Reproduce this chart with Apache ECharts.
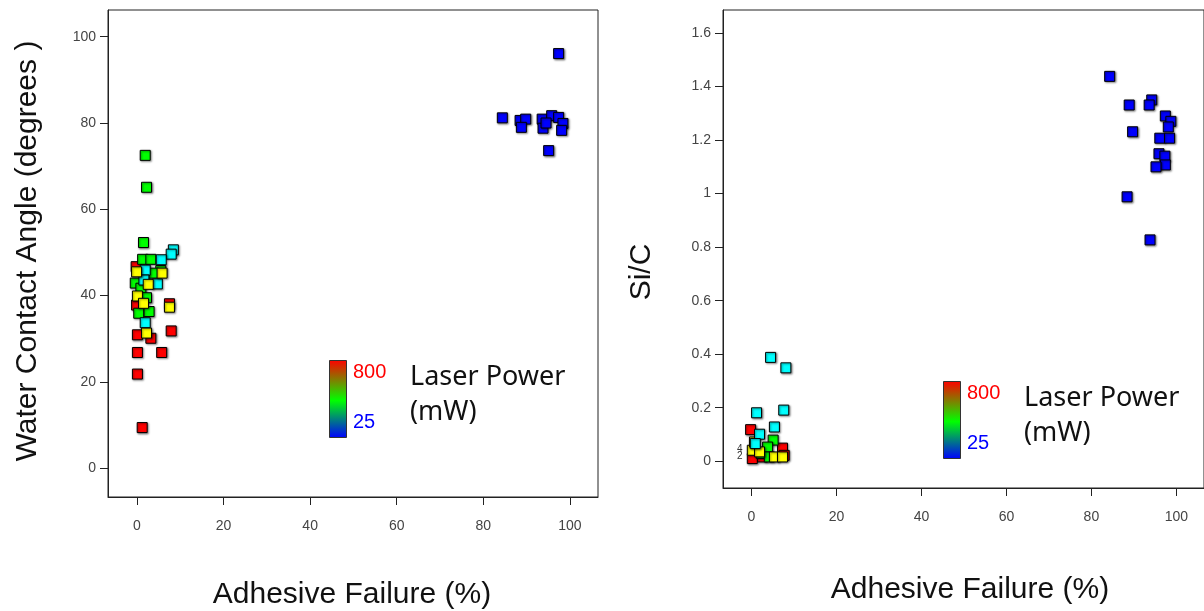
<!DOCTYPE html>
<html>
<head>
<meta charset="utf-8">
<script src="https://cdn.jsdelivr.net/npm/echarts@6/dist/echarts.min.js"></script>
<style>
  html, body { margin: 0; padding: 0; background: #fff; }
  #chart { width: 1204px; height: 611px; }
</style>
</head>
<body>
<div id="chart"></div>
<script>
// left panel: water contact angle vs adhesive failure, grouped by point colour
var wcaRed = [[-0.2,46.7],[-0.1,37.8],[7.5,38.1],[0.1,30.9],[3.2,30.1],[7.9,31.8],[0.1,26.8],[5.7,26.8],[0.1,21.8],[1.2,9.4]];
var wcaYellow = [[-0.1,45.5],[5.8,45.2],[2.6,42.6],[0.1,39.9],[7.5,37.3],[1.5,38.2],[2.2,31.3]];
var wcaGreen = [[1.9,72.5],[2.2,65.1],[1.5,52.3],[1.3,48.4],[3.2,48.4],[5.5,45.8],[3.8,45.2],[-0.4,42.9],[0.9,41.7],[2.2,39.5],[0.4,35.9],[2.8,36.3]];
var wcaCyan = [[8.4,50.6],[7.9,49.6],[5.6,48.3],[1.9,45.9],[1.6,43.6],[4.7,42.7],[1.9,33.7]];
var wcaBlue = [[97.4,96.1],[84.4,81.2],[88.5,80.6],[89.8,80.9],[88.8,79.0],[93.6,80.9],[93.8,78.8],[95.8,81.7],[97.4,81.3],[98.4,79.9],[98.1,78.3],[95.1,73.6],[94.5,80.0]];

// right panel: Si/C vs adhesive failure
var sicRed = [[-0.2,0.118],[7.3,0.049],[7.7,0.022],[0.2,0.010],[2.6,0.016]];
var sicYellow = [[0.2,0.041],[1.9,0.035],[0.7,0.072],[5.4,0.016],[7.3,0.016]];
var sicGreen = [[5.1,0.079],[2.3,0.029],[3.8,0.053],[4.2,0.016]];
var sicCyan = [[4.5,0.388],[8.1,0.349],[1.2,0.181],[7.6,0.191],[5.4,0.128],[1.9,0.101],[0.9,0.066]];
var sicBlue = [[84.3,1.438],[88.9,1.331],[94.2,1.350],[93.6,1.331],[89.7,1.231],[97.4,1.290],[98.7,1.270],[98.1,1.249],[96.1,1.207],[98.4,1.207],[95.9,1.149],[97.3,1.140],[97.4,1.107],[95.2,1.100],[88.4,0.988],[93.8,0.827]];

var xTicks = [0, 20, 40, 60, 80, 100];
var wcaTicks = [0, 20, 40, 60, 80, 100];
var sicTicks = [0, 0.2, 0.4, 0.6, 0.8, 1, 1.2, 1.4, 1.6];

var colors = {red: '#ff0000', yellow: '#ffff00', green: '#00ff00', cyan: '#00ffff', blue: '#0000ff'};

var chart = echarts.init(document.getElementById('chart'));

var mk = function(name, data, color, xi) {
  return {
    name: name,
    type: 'scatter',
    xAxisIndex: xi,
    yAxisIndex: xi,
    symbol: 'rect',
    symbolSize: 10,
    data: data,
    itemStyle: {
      color: color,
      borderColor: '#000',
      borderWidth: 1,
      shadowColor: 'rgba(0,0,0,0.45)',
      shadowBlur: 2,
      shadowOffsetX: 1,
      shadowOffsetY: 1,
      opacity: 1
    },
    emphasis: { disabled: true }
  };
};

var xAxisBase = function(gi) {
  return {
    type: 'value',
    gridIndex: gi,
    min: -6.7,
    max: 106.5,
    splitLine: { show: false },
    axisLine: { show: true, onZero: false, lineStyle: { color: '#222' } },
    axisTick: { show: true, length: 8, customValues: xTicks, lineStyle: { color: '#222' } },
    axisLabel: { customValues: xTicks, color: '#444', fontSize: 14, fontFamily: 'Liberation Sans', margin: 22 }
  };
};

var yAxisBase = function(gi, min, max, ticks) {
  return {
    type: 'value', gridIndex: gi, min: min, max: max,
    splitLine: { show: false },
    axisLine: { show: true, onZero: false, lineStyle: { color: '#222' } },
    axisTick: { show: true, length: 8, customValues: ticks, lineStyle: { color: '#222' } },
    axisLabel: { customValues: ticks, color: '#444', fontSize: 14, fontFamily: 'Liberation Sans', margin: 12 }
  };
};

var gradient = new echarts.graphic.LinearGradient(0, 0, 0, 1, [
  { offset: 0, color: '#ff0000' },
  { offset: 0.52, color: '#00ff00' },
  { offset: 1, color: '#0000ff' }
]);

var legendBlock = function(x, y) {
  return [
    { type: 'rect', left: x, top: y, shape: { width: 17, height: 77 },
      style: { fill: gradient, stroke: '#333', lineWidth: 1 } },
    { type: 'text', left: x + 24, top: y + 2,
      style: { text: '800', fill: '#ff0000', font: '20px "Liberation Sans"' } },
    { type: 'text', left: x + 24, top: y + 52,
      style: { text: '25', fill: '#0000ff', font: '20px "Liberation Sans"' } },
    { type: 'text', left: x + 81, top: y + 4,
      style: { text: 'Laser Power', fill: '#111', font: '27px "Noto Sans"' } },
    { type: 'text', left: x + 81, top: y + 39,
      style: { text: '(mW)', fill: '#111', font: '27px "Noto Sans"' } }
  ];
};

var titleFont = '30px "Liberation Sans"';
var titles = [
  { type: 'text', x: 28, y: 251, rotation: Math.PI / 2,
    style: { text: 'Water Contact Angle (degrees )', fill: '#111', font: titleFont, textAlign: 'center', textVerticalAlign: 'middle' } },
  { type: 'text', x: 352, y: 595,
    style: { text: 'Adhesive Failure (%)', fill: '#111', font: titleFont, textAlign: 'center', textVerticalAlign: 'middle' } },
  { type: 'text', x: 642, y: 272, rotation: Math.PI / 2,
    style: { text: 'Si/C', fill: '#111', font: titleFont, textAlign: 'center', textVerticalAlign: 'middle' } },
  { type: 'text', x: 970, y: 590,
    style: { text: 'Adhesive Failure (%)', fill: '#111', font: titleFont, textAlign: 'center', textVerticalAlign: 'middle' } },
  { type: 'text', x: 737, y: 444,
    style: { text: '4', fill: '#333', font: '10px "Liberation Sans"' } },
  { type: 'text', x: 737, y: 451,
    style: { text: '2', fill: '#333', font: '10px "Liberation Sans"' } }
];

var option = {
  animation: false,
  backgroundColor: '#fff',
  grid: [
    { left: 108, top: 10, width: 490, height: 487, show: true, borderColor: '#222', borderWidth: 1 },
    { left: 723, top: 10, width: 485, height: 478, show: true, borderColor: '#222', borderWidth: 1 }
  ],
  xAxis: [xAxisBase(0), xAxisBase(1)],
  yAxis: [
    yAxisBase(0, -6.7, 106.2, wcaTicks),
    yAxisBase(1, -0.1, 1.686, sicTicks)
  ],
  series: [
    mk('blue', wcaBlue, colors.blue, 0),
    mk('red', wcaRed, colors.red, 0),
    mk('green', wcaGreen, colors.green, 0),
    mk('cyan', wcaCyan, colors.cyan, 0),
    mk('yellow', wcaYellow, colors.yellow, 0),
    mk('blue', sicBlue, colors.blue, 1),
    mk('red', sicRed, colors.red, 1),
    mk('green', sicGreen, colors.green, 1),
    mk('yellow', sicYellow, colors.yellow, 1),
    mk('cyan', sicCyan, colors.cyan, 1)
  ],
  graphic: legendBlock(329, 360).concat(legendBlock(943, 381)).concat(titles)
};
chart.setOption(option);
</script>
</body>
</html>
